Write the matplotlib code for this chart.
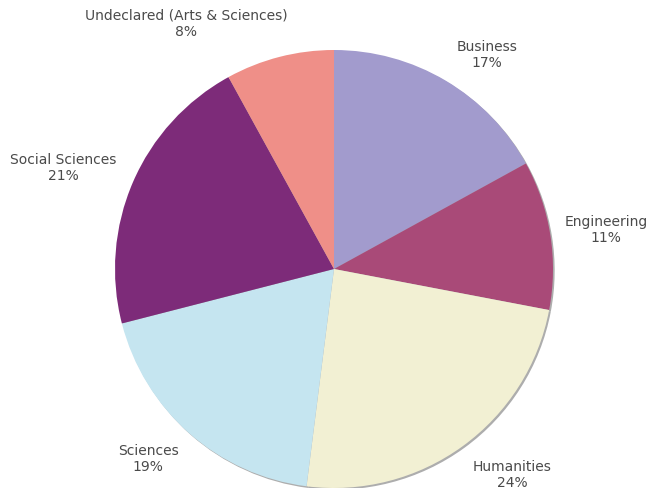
import matplotlib.pyplot as plt

categories = [
    "Business",
    "Engineering",
    "Humanities",
    "Sciences",
    "Social Sciences",
    "Undeclared (Arts & Sciences)",
]
shares = [17, 11, 24, 19, 21, 8]
colors = ["#a29bcd", "#a94a78", "#f2f0d3", "#c5e5f0", "#7d2b79", "#ef8f88"]

# label anchor points in pixel space (x right, y down from top)
label_xy = [(487, 55), (606, 230), (512, 475), (148, 459), (63, 168), (186, 24)]

W, H = 648, 489

fig = plt.figure(figsize=(W / 100, H / 100), dpi=100)
ax = fig.add_axes([0, 0, 1, 1])

ax.pie(
    shares,
    colors=colors,
    startangle=90,
    counterclock=False,
    center=(334, H - 270),
    radius=219,
    wedgeprops={"linewidth": 0},
    shadow={"ox": 1.2, "oy": -1.2, "facecolor": "#8a8a8a", "edgecolor": "none", "alpha": 0.7},
)
ax.set_xlim(0, W)
ax.set_ylim(0, H)
ax.set_aspect("equal")
ax.axis("off")

for name, share, (x, y) in zip(categories, shares, label_xy):
    ax.text(
        x, H - y, f"{name}\n{share}%",
        ha="center", va="center", fontsize=10, color="#4a4a4a",
        linespacing=1.2,
    )

fig.savefig("out.png", dpi=100, facecolor="white")
